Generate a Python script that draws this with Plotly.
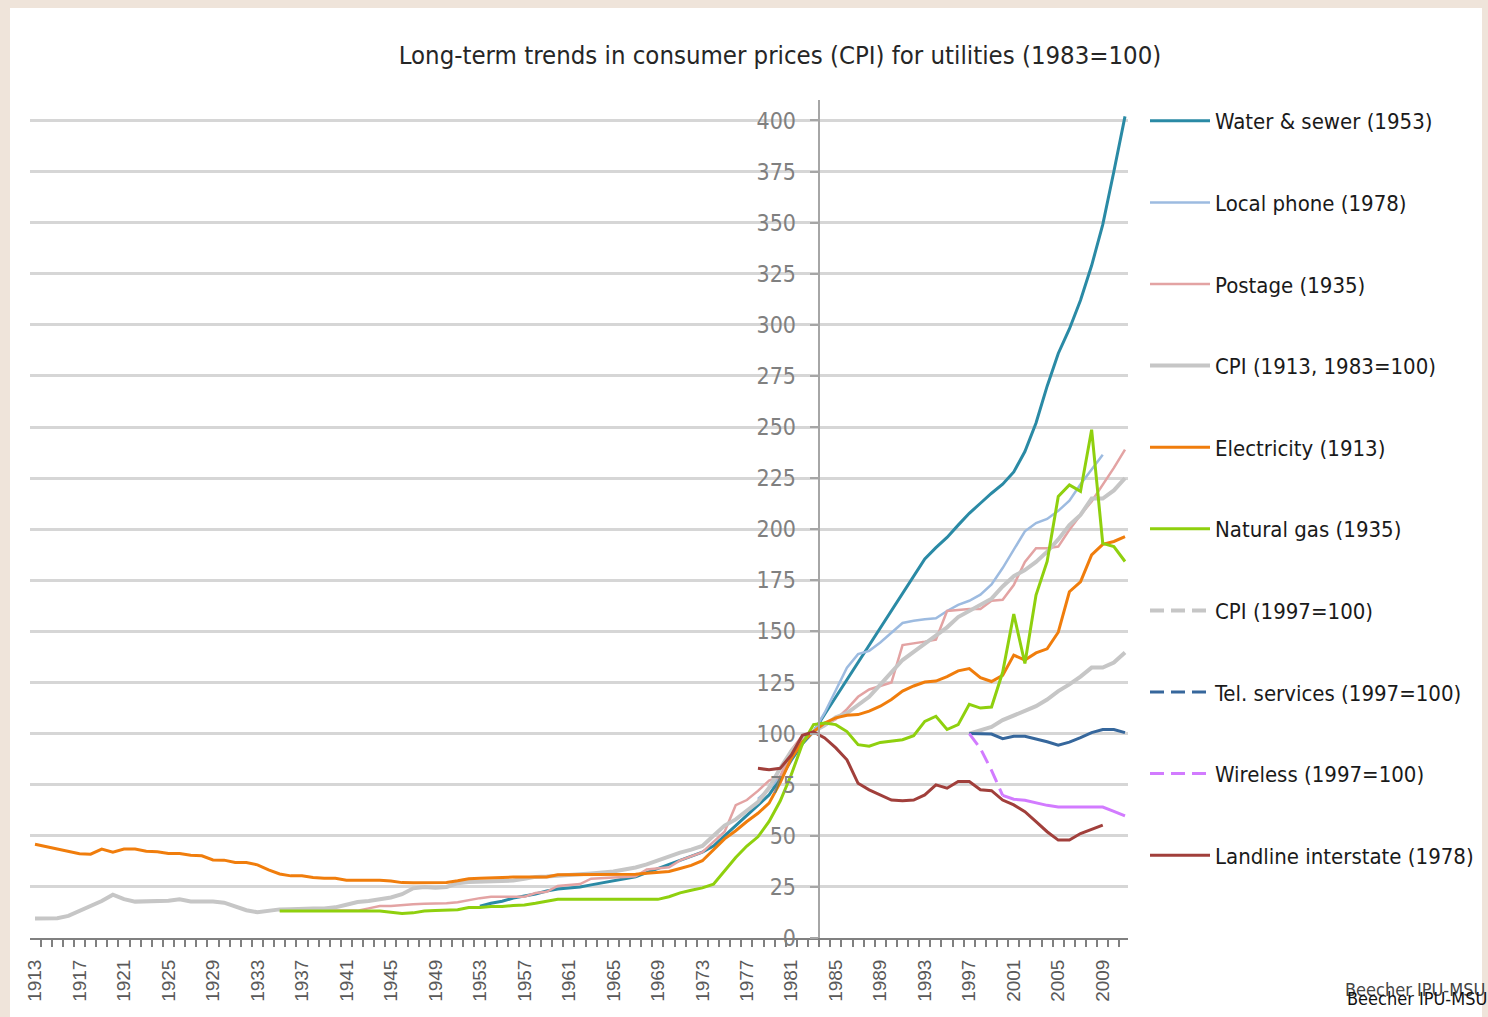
import plotly.graph_objects as go

# ---------------- data ----------------
years_cpi = list(range(1913, 2012))
cpi = [9.6, 9.6, 9.7, 10.8, 13.2, 15.7, 18.1, 21.2, 19.0, 17.8,
       17.8, 17.8, 18.2, 18.9, 17.9, 17.8, 17.8, 17.3, 15.2, 13.6,
       12.6, 13.4, 14.0, 14.1, 14.4, 14.4, 14.4, 15.0, 16.3, 17.6,
       18.1, 19.0, 19.8, 21.4, 24.3, 25.0, 24.6, 25.0, 26.8, 27.4,
       27.6, 27.8, 27.7, 28.1, 29.0, 29.9, 30.1, 30.6, 30.9, 31.2,
       31.6, 32.0, 32.5, 33.5, 34.5, 36.0, 37.9, 40.1, 41.8, 43.2,
       45.0, 50.0, 55.0, 58.0, 62.0, 66.5, 73.5, 83.0, 91.5, 97.0,
       101.0, 104, 108, 110, 114, 118, 124, 130, 136, 140,
       144, 148, 152, 157, 160, 163, 166, 172, 177, 180,
       184, 189, 195, 202, 207, 215, 215, 219, 225]

years_elec = list(range(1913, 2012))
electricity = [45.9, 44.8, 43.6, 42.4, 41.2, 41.0, 43.5, 42.0, 43.5, 43.5,
               42.4, 42.2, 41.4, 41.3, 40.5, 40.2, 38.2, 38.1, 37.0, 36.9,
               35.8, 33.3, 31.3, 30.4, 30.4, 29.6, 29.2, 29.2, 28.3, 28.3,
               28.3, 28.3, 27.9, 27.1, 27.0, 27.0, 27.0, 27.2, 28.0, 29.0,
               29.2, 29.5, 29.8, 29.8, 29.8, 29.8, 29.9, 30.9, 30.9, 30.9,
               30.9, 30.9, 30.9, 30.9, 31.2, 31.7, 32.1, 32.5, 34.0, 35.5,
               37.8, 43.4, 48.5, 52.5, 57.0, 61.0, 66.0, 76.0, 88.0, 96.0,
               101.0, 105.2, 107.7, 109.0, 109.3, 111.0, 113.4, 116.7, 120.8, 123.3,
               125.2, 125.7, 127.9, 130.7, 131.8, 127.4, 125.5, 128.5, 138.4, 136.0,
               139.5, 141.5, 149.6, 169.4, 174.3, 187.4, 192.6, 194.0, 196.4]

years_gas = list(range(1935, 2012))
natural_gas = [13.2, 13.2, 13.2, 13.2, 13.2, 13.2, 13.2, 13.2, 13.2, 13.2,
               12.6, 12.0, 12.3, 13.2, 13.5, 13.8, 13.8, 14.9, 14.9, 15.4,
               15.4, 15.9, 16.2, 17.0, 17.8, 18.9, 18.9, 18.9, 18.9, 18.9,
               18.9, 18.9, 18.9, 18.9, 18.9, 20.2, 22.1, 23.4, 24.5, 26.3,
               33.0, 39.4, 45.0, 49.5, 57.0, 67.0, 80.0, 95.0, 104.4, 105.2,
               104.4, 101.0, 94.6, 93.8, 95.7, 96.2, 97.0, 99.0, 106.0, 108.5,
               102.0, 104.4, 114.3, 112.5, 113.0, 130.0, 158.5, 134.3, 167.8, 184.2,
               216.0, 221.7, 218.5, 248.7, 193.1, 191.5, 184.2]

years_post = list(range(1935, 2012))
postage = [13.4, 13.4, 13.4, 13.4, 13.4, 13.4, 13.4, 13.4, 14.5, 15.7,
           15.7, 16.2, 16.5, 16.8, 16.8, 17.0, 17.5, 18.6, 19.5, 20.2,
           20.2, 20.2, 20.2, 22.0, 22.6, 25.5, 25.8, 26.4, 29.0, 29.4,
           29.6, 29.8, 30.2, 33.5, 34.0, 34.6, 38.0, 40.0, 42.0, 47.0,
           52.0, 65.0, 67.5, 72.0, 77.0, 79.0, 92.0, 99.0, 101.0, 104.0,
           107.0, 112.0, 118.0, 121.6, 123.3, 125.0, 143.3, 144.0, 145.0, 146.0,
           160.0, 160.5, 161.0, 161.0, 165.0, 165.5, 172.7, 184.0, 190.7, 190.7,
           191.5, 199.7, 207.0, 213.6, 221.7, 230.0, 238.9]

years_water = list(range(1953, 2012))
water_sewer = [15.5, 17.0, 18.0, 19.5, 20.5, 21.5, 23.0, 24.0, 24.5, 25.0,
               26.0, 27.0, 28.0, 29.0, 30.0, 32.0, 34.0, 36.0, 38.0, 40.0,
               42.0, 45.0, 50.0, 55.0, 60.0, 65.0, 70.0, 78.0, 87.0, 95.0,
               101.0, 109.5, 118.0, 126.4, 134.8, 143.3, 151.7, 160.2, 168.6, 177.0,
               185.5, 191.0, 196.0, 202.0, 207.8, 212.7, 217.6, 222.0, 228.0, 238.0,
               252.0, 270.0, 286.0, 298.0, 312.0, 329.0, 349.0, 375.0, 402.0]

years_phone = list(range(1978, 2010))
local_phone = [68, 73, 79, 88, 96, 101, 110.2, 121.6, 132.3, 138.9,
               140.5, 144.6, 149.5, 154.1, 155.2, 156.0, 156.4, 160.0, 163.0, 165.0,
               168.0, 173.0, 181.0, 190.0, 199.0, 203.0, 205.0, 209.0, 214.0, 222.0,
               229.0, 236.4]

years_land = list(range(1978, 2010))
landline = [83, 82.3, 83, 89.5, 99.2, 100.8, 97.9, 93, 87.2, 75.7,
            72.5, 70, 67.5, 67.2, 67.5, 70, 74.9, 73.3, 76.6, 76.6,
            72.5, 72.1, 67.5, 65.1, 61.8, 56.9, 52, 47.9, 47.9, 51.1,
            53.1, 55.2]

years_97 = list(range(1997, 2012))
cpi_1997 = [100, 101.5, 103.3, 106.6, 108.9, 111, 113.4, 116.7, 120.8, 124.1,
            127.9, 132.3, 132.3, 134.8, 139.7]
tel_services = [100, 100, 99.8, 97.5, 98.7, 98.7, 97.5, 96, 94.3, 95.8,
                98, 100.5, 102, 102, 100.5]
wireless = [100, 92.7, 82, 69.8, 67.9, 67.4, 66.1, 64.9, 64.1, 64.1,
            64.1, 64.1, 64.1, 62, 59.7]

x_tick_years = list(range(1913, 2010, 4))
y_ticks = list(range(0, 401, 25))

# ---------------- layout constants ----------------
W, H = 1488, 1017
ML, MR, MT, MB = 30, 360, 100, 79
PW, PH = W - ML - MR, H - MT - MB
XMIN, XMAX = 1912.55, 2011.27
YMAX = 410
YAXIS_AT = 1983.45

NARROW = "Liberation Sans Narrow, DejaVu Sans Condensed, Arial Narrow, sans-serif"


def px_x(p):
    return (p - ML) / PW


def px_y(p):
    return (H - MB - p) / PH


fig = go.Figure()

styles = {
    "water": dict(color="#2a8aa5", width=3),
    "phone": dict(color="#9dbbe0", width=2.5),
    "post": dict(color="#e3a3a3", width=2.5),
    "cpi": dict(color="#c6c6c6", width=4),
    "elec": dict(color="#f07d0c", width=3),
    "gas": dict(color="#8fd00e", width=3),
    "cpi97": dict(color="#c6c6c6", width=4),
    "tel": dict(color="#36679c", width=3),
    "wire": dict(color="#d27bff", width=3),
    "land": dict(color="#a13f3b", width=3),
}


def add(x, y, name, key, rank, dash=None, showlegend=True):
    line = dict(styles[key])
    if dash:
        line["dash"] = dash
    fig.add_trace(go.Scatter(
        x=x, y=y, mode="lines", name=name, line=line,
        showlegend=showlegend, legendgroup=key, legendrank=rank,
        hoverinfo="skip",
    ))


# draw order (later on top)
add(years_water, water_sewer, "Water & sewer (1953)", "water", 1)
add(years_phone, local_phone, "Local phone (1978)", "phone", 2)
add(years_post, postage, "Postage (1935)", "post", 3)
add(years_cpi, cpi, "CPI (1913, 1983=100)", "cpi", 4)
add(years_elec, electricity, "Electricity (1913)", "elec", 5)
add(years_97, cpi_1997, "CPI (1997=100)", "cpi97", 7, showlegend=False)
add([None], [None], "CPI (1997=100)", "cpi97", 7, dash="14px,7px")
add(years_97, tel_services, "Tel. services (1997=100)", "tel", 8, showlegend=False)
add([None], [None], "Tel. services (1997=100)", "tel", 8, dash="14px,7px")
add(years_97[:4], wireless[:4], "Wireless (1997=100)", "wire", 9, dash="14px,7px")
add(years_97[3:], wireless[3:], "Wireless (1997=100)", "wire", 9, showlegend=False)
add(years_gas, natural_gas, "Natural gas (1935)", "gas", 6)
add(years_land, landline, "Landline interstate (1978)", "land", 10)

ypos = (YAXIS_AT - XMIN) / (XMAX - XMIN)

fig.update_layout(
    width=W, height=H,
    margin=dict(l=ML, r=MR, t=MT, b=MB, autoexpand=False),
    paper_bgcolor="#efe4da",
    plot_bgcolor="rgba(0,0,0,0)",
    title=dict(
        text="Long-term trends in consumer prices (CPI) for utilities (1983=100)",
        x=780 / W, xanchor="center", y=1 - 55 / H, yanchor="middle",
        font=dict(family=NARROW, size=25.5, color="#262626"),
    ),
    xaxis=dict(
        range=[XMIN, XMAX], showgrid=False, zeroline=False,
        showline=True, linecolor="#808080", linewidth=2,
        tickmode="array", tickvals=x_tick_years,
        ticktext=[str(v) for v in x_tick_years],
        ticks="", tickangle=-90, ticklabelstandoff=12,
        tickfont=dict(family="Liberation Sans, Arial, sans-serif", size=19, color="#595959"),
        minor=dict(tickmode="linear", tick0=1912.5, dtick=1, ticks="outside",
                   ticklen=7, tickwidth=1.5, tickcolor="#808080", showgrid=False),
        anchor="y",
    ),
    yaxis=dict(
        range=[0, YMAX], anchor="free", position=ypos, side="left",
        tickmode="array", tickvals=y_ticks, ticktext=[str(v) for v in y_ticks],
        showgrid=True, gridcolor="#d6d6d6", gridwidth=3,
        zeroline=False, showline=True, linecolor="#a6a6a6", linewidth=2,
        ticks="outside", ticklen=8, tickcolor="#a6a6a6", tickwidth=1.5,
        ticklabelstandoff=9,
        tickfont=dict(family=NARROW, size=23, color="#808080"),
    ),
    legend=dict(
        x=px_x(1145), xanchor="left", y=1.0, yanchor="top",
        font=dict(family=NARROW, size=22, color="#1a1a1a"),
        tracegroupgap=50, itemwidth=60,
        bgcolor="rgba(0,0,0,0)", traceorder="grouped",
    ),
    shapes=[dict(type="rect", xref="paper", yref="paper",
                 x0=px_x(10), x1=px_x(1482), y0=px_y(1017), y1=px_y(8),
                 fillcolor="white", line=dict(width=0), layer="below")],
    annotations=[
        dict(text="Beecher IPU-MSU", xref="paper", yref="paper",
             x=px_x(1415), y=px_y(989), xanchor="center", yanchor="middle",
             showarrow=False,
             font=dict(family=NARROW, size=18, color="#444444")),
        dict(text="Beecher IPU-MSU", xref="paper", yref="paper",
             x=px_x(1417), y=px_y(998), xanchor="center", yanchor="middle",
             showarrow=False,
             font=dict(family=NARROW, size=18, color="#111111")),
    ],
)

fig.write_html("out.html", config={"displayModeBar": False},
               post_script="document.body.style.margin='0px';")
